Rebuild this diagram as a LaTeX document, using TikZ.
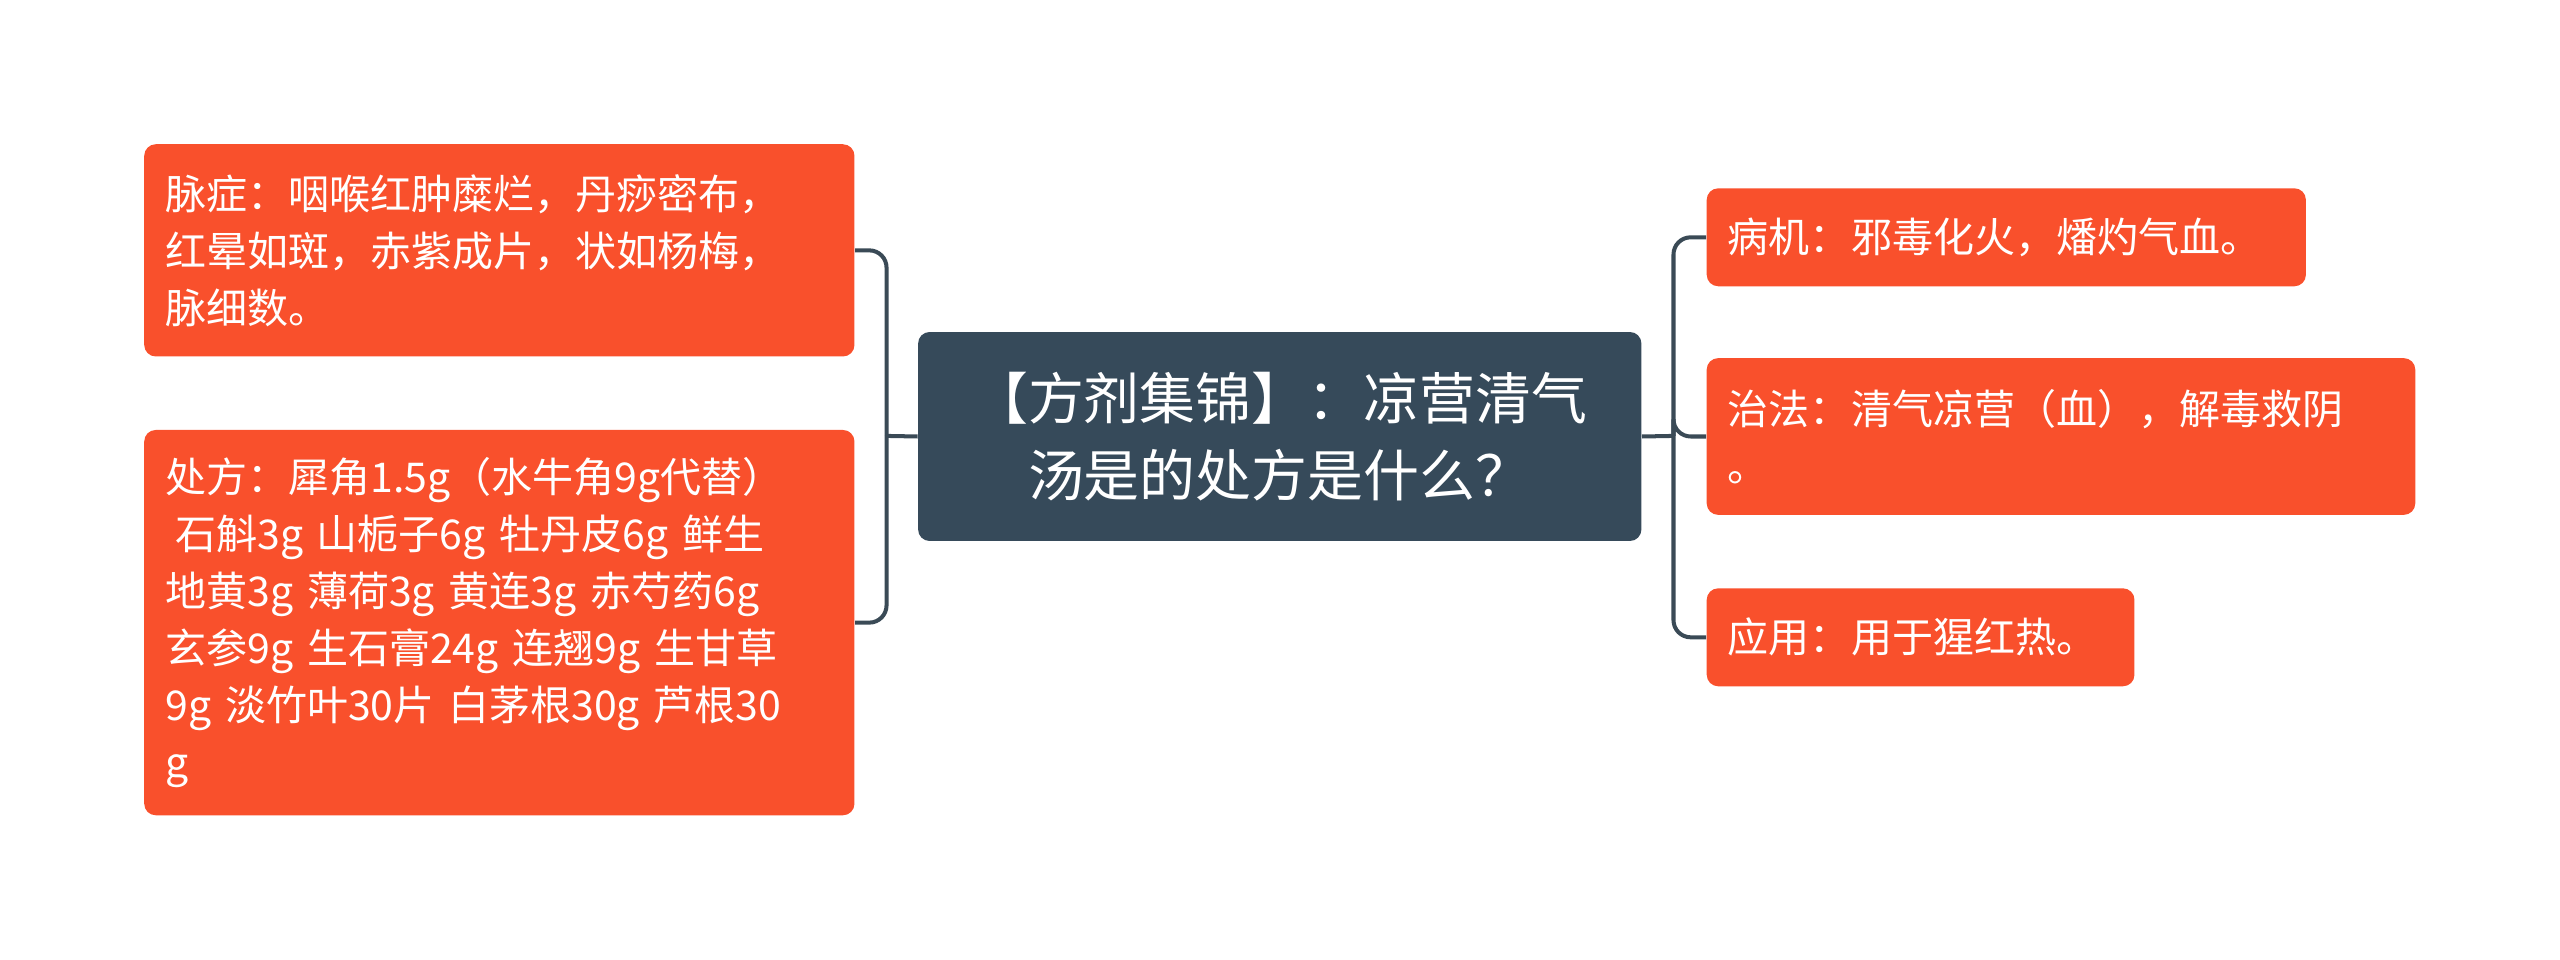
\documentclass[tikz,border=0pt]{standalone}
\usepackage{fontspec}
\setmainfont{Noto Sans CJK SC}
\definecolor{org}{HTML}{F9502C}
\definecolor{dark}{HTML}{364A5A}
\definecolor{lin}{HTML}{3A4A56}
\begin{document}
\begin{tikzpicture}[x=0.02cm,y=-0.02cm,
  leaf/.style={fill=org,draw=none,rounded corners=4pt,anchor=north west,align=left,text=white,inner xsep=0.26cm,inner ysep=0pt,font=\fontsize{14.3}{19.9}\selectfont},
  root/.style={fill=dark,rounded corners=4pt,anchor=north west,align=center,text=white,font=\fontsize{19.5}{26.7}\selectfont},
  conn/.style={draw=lin,line width=1.4pt,rounded corners=6pt}]
\useasboundingbox (0,0) rectangle (1568,588);
\node[leaf,minimum width=435*0.02cm,minimum height=130*0.02cm,text width=409*0.02cm] (l1) at (88,88) {脉症：咽喉红肿糜烂，丹痧密布，\\红晕如斑，赤紫成片，状如杨梅，\\脉细数。};
\node[leaf,minimum width=435*0.02cm,minimum height=236*0.02cm,text width=409*0.02cm] (l2) at (88,263) {处方：犀角1.5g（水牛角9g代替）\\\hspace*{0.12cm}石斛3g 山栀子6g 牡丹皮6g 鲜生\\地黄3g 薄荷3g 黄连3g 赤芍药6g\\玄参9g 生石膏24g 连翘9g 生甘草\\9g 淡竹叶30片 白茅根30g 芦根30\\g};
\node[root,minimum width=443*0.02cm,minimum height=128*0.02cm,text width=430*0.02cm] (c) at (562,203) {【方剂集锦】：凉营清气\\汤是的处方是什么？};
\node[leaf,minimum width=367*0.02cm,minimum height=60*0.02cm,text width=341*0.02cm] (r1) at (1045,115) {病机：邪毒化火，燔灼气血。};
\node[leaf,minimum width=434*0.02cm,minimum height=96*0.02cm,text width=408*0.02cm] (r2) at (1045,219) {治法：清气凉营（血），解毒救阴\\。};
\node[leaf,minimum width=262*0.02cm,minimum height=60*0.02cm,text width=236*0.02cm] (r3) at (1045,360) {应用：用于猩红热。};
\coordinate (lj) at (543,267);
\coordinate (rj) at (1025,267);
\draw[conn] (c.west) -- (lj);
\draw[conn] (lj) |- (l1.east);
\draw[conn] (lj) |- (l2.east);
\draw[conn] (c.east) -- (rj);
\draw[conn] (rj) |- (r1.west);
\draw[conn] (rj) |- (r2.west);
\draw[conn] (rj) |- (r3.west);
\end{tikzpicture}
\end{document}
